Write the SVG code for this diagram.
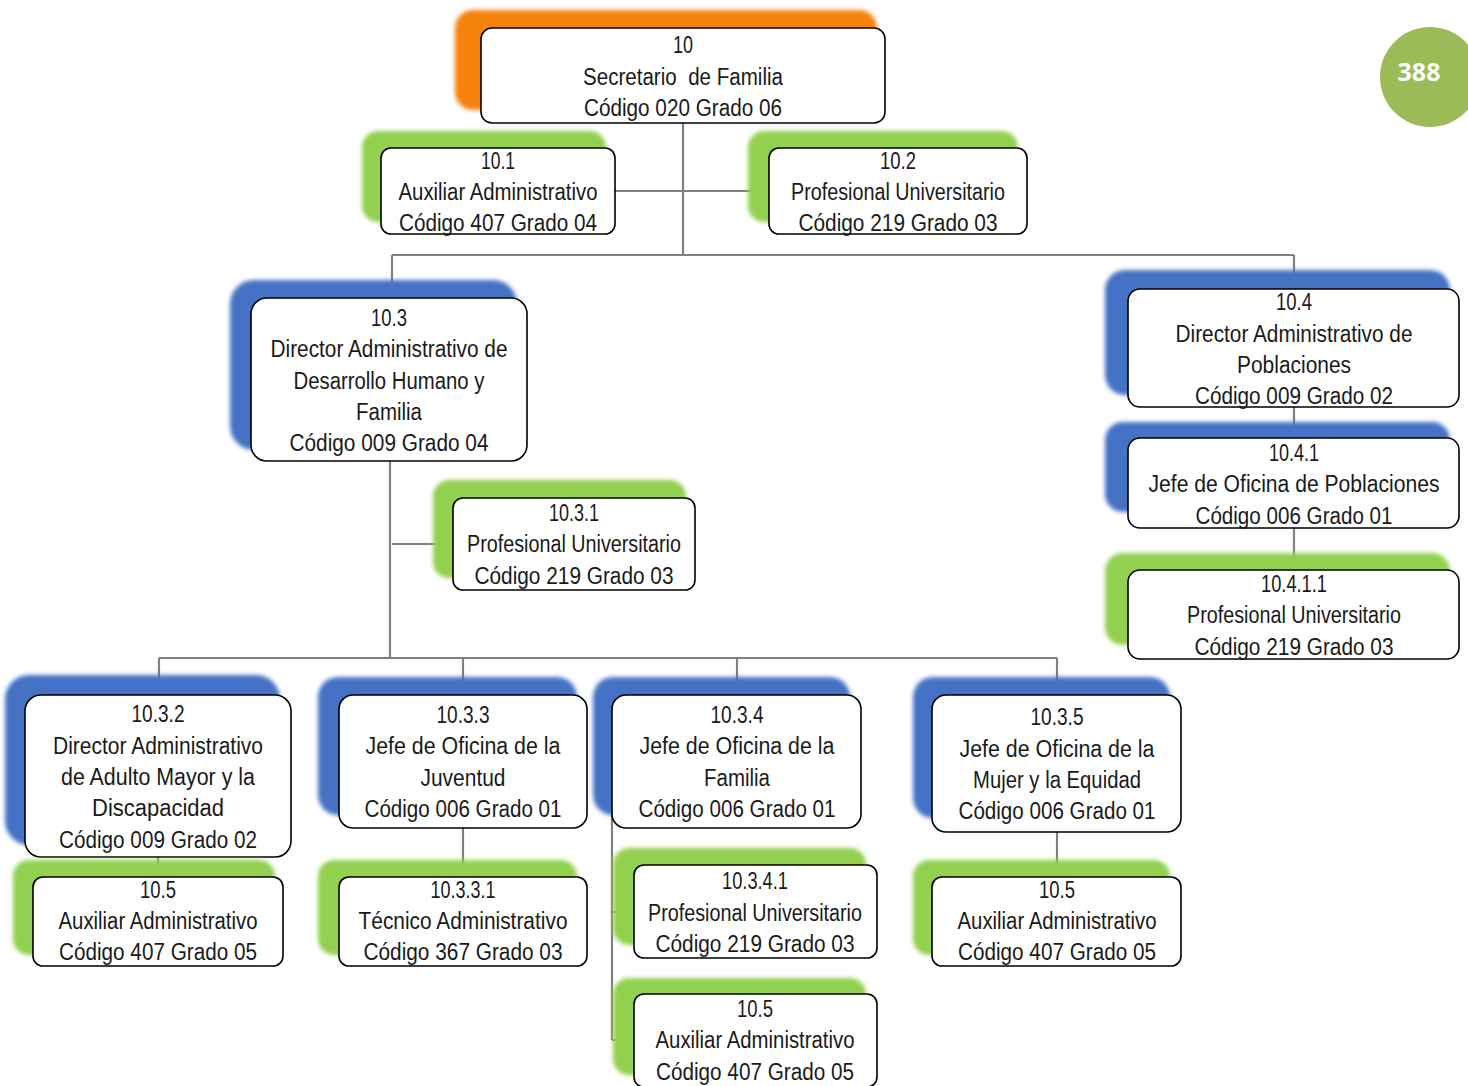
<svg xmlns="http://www.w3.org/2000/svg" width="1468" height="1086" viewBox="0 0 1468 1086">
<defs>
<filter id="soft" x="-10%" y="-10%" width="120%" height="120%"><feGaussianBlur stdDeviation="2"/></filter>
<style>
.sh{filter:url(#soft)}
.or{fill:#F5820F}
.bl{fill:#4472C4}
.gr{fill:#92D050}
.box{fill:#fff;stroke:#000;stroke-width:1.6}
.t{font-family:"Liberation Sans",Arial,sans-serif;font-size:23px;fill:#1a1a1a;text-anchor:middle;white-space:pre}
.c{fill:none;stroke:#808080;stroke-width:2.2}
</style>
</defs>
<rect width="1468" height="1086" fill="#fff"/>

<g id="connectors">
<path class="c" d="M683 123V255M615 191H769M392 255H1294M392 255V298M1294 255V290"/>
<path class="c" d="M390 461V658M392 544H453"/>
<path class="c" d="M1294 407V438M1294 528V570"/>
<path class="c" d="M159 658H1057M159 658V695M463 658V695M737 658V695M1057 658V695"/>
<path class="c" d="M158 857V877M463 828V877M1057 832V877"/>
<path class="c" d="M612 812V1040M612 912H634M612 1040H634"/>
</g>

<g id="n10">
<rect class="sh or" x="455" y="10" width="422" height="100" rx="18"/>
<rect class="box" x="481" y="28" width="404" height="95" rx="11"/>
<text class="t" x="683" y="53" textLength="20" lengthAdjust="spacingAndGlyphs">10</text>
<text class="t" x="683" y="85" textLength="200" lengthAdjust="spacingAndGlyphs">Secretario  de Familia</text>
<text class="t" x="683" y="116" textLength="198" lengthAdjust="spacingAndGlyphs">Código 020 Grado 06</text>
</g>

<g id="n10-1">
<rect class="sh gr" x="362" y="131" width="244" height="91" rx="16"/>
<rect class="box" x="381" y="148" width="234" height="86" rx="10"/>
<text class="t" x="498" y="169" textLength="34" lengthAdjust="spacingAndGlyphs">10.1</text>
<text class="t" x="498" y="200" textLength="199" lengthAdjust="spacingAndGlyphs">Auxiliar Administrativo</text>
<text class="t" x="498" y="231" textLength="198" lengthAdjust="spacingAndGlyphs">Código 407 Grado 04</text>
</g>

<g id="n10-2">
<rect class="sh gr" x="748" y="131" width="270" height="91" rx="16"/>
<rect class="box" x="769" y="148" width="258" height="86" rx="10"/>
<text class="t" x="898" y="169" textLength="36" lengthAdjust="spacingAndGlyphs">10.2</text>
<text class="t" x="898" y="200" textLength="214" lengthAdjust="spacingAndGlyphs">Profesional Universitario</text>
<text class="t" x="898" y="231" textLength="199" lengthAdjust="spacingAndGlyphs">Código 219 Grado 03</text>
</g>

<g id="n10-3">
<rect class="sh bl" x="230" y="280" width="287" height="170" rx="24"/>
<rect class="box" x="251" y="298" width="276" height="163" rx="16"/>
<text class="t" x="389" y="326" textLength="36" lengthAdjust="spacingAndGlyphs">10.3</text>
<text class="t" x="389" y="357" textLength="237" lengthAdjust="spacingAndGlyphs">Director Administrativo de</text>
<text class="t" x="389" y="389" textLength="191" lengthAdjust="spacingAndGlyphs">Desarrollo Humano y</text>
<text class="t" x="389" y="420" textLength="66" lengthAdjust="spacingAndGlyphs">Familia</text>
<text class="t" x="389" y="451" textLength="199" lengthAdjust="spacingAndGlyphs">Código 009 Grado 04</text>
</g>

<g id="n10-3-1">
<rect class="sh gr" x="433" y="480" width="253" height="98" rx="16"/>
<rect class="box" x="453" y="498" width="242" height="92" rx="10"/>
<text class="t" x="574" y="521" textLength="50" lengthAdjust="spacingAndGlyphs">10.3.1</text>
<text class="t" x="574" y="552" textLength="214" lengthAdjust="spacingAndGlyphs">Profesional Universitario</text>
<text class="t" x="574" y="584" textLength="199" lengthAdjust="spacingAndGlyphs">Código 219 Grado 03</text>
</g>

<g id="n10-4">
<rect class="sh bl" x="1105" y="270" width="345" height="125" rx="20"/>
<rect class="box" x="1128" y="289" width="331" height="118" rx="12"/>
<text class="t" x="1294" y="310" textLength="36" lengthAdjust="spacingAndGlyphs">10.4</text>
<text class="t" x="1294" y="342" textLength="237" lengthAdjust="spacingAndGlyphs">Director Administrativo de</text>
<text class="t" x="1294" y="373" textLength="114" lengthAdjust="spacingAndGlyphs">Poblaciones</text>
<text class="t" x="1294" y="404" textLength="198" lengthAdjust="spacingAndGlyphs">Código 009 Grado 02</text>
</g>

<g id="n10-4-1">
<rect class="sh bl" x="1105" y="422" width="345" height="90" rx="18"/>
<rect class="box" x="1128" y="438" width="331" height="90" rx="12"/>
<text class="t" x="1294" y="461" textLength="50" lengthAdjust="spacingAndGlyphs">10.4.1</text>
<text class="t" x="1294" y="492" textLength="291" lengthAdjust="spacingAndGlyphs">Jefe de Oficina de Poblaciones</text>
<text class="t" x="1294" y="524" textLength="197" lengthAdjust="spacingAndGlyphs">Código 006 Grado 01</text>
</g>

<g id="n10-4-1-1">
<rect class="sh gr" x="1105" y="553" width="345" height="92" rx="18"/>
<rect class="box" x="1128" y="570" width="331" height="89" rx="12"/>
<text class="t" x="1294" y="592" textLength="66" lengthAdjust="spacingAndGlyphs">10.4.1.1</text>
<text class="t" x="1294" y="623" textLength="214" lengthAdjust="spacingAndGlyphs">Profesional Universitario</text>
<text class="t" x="1294" y="655" textLength="199" lengthAdjust="spacingAndGlyphs">Código 219 Grado 03</text>
</g>

<g id="n10-3-2">
<rect class="sh bl" x="5" y="675" width="275" height="170" rx="24"/>
<rect class="box" x="25" y="695" width="266" height="162" rx="16"/>
<text class="t" x="158" y="722" textLength="53" lengthAdjust="spacingAndGlyphs">10.3.2</text>
<text class="t" x="158" y="754" textLength="210" lengthAdjust="spacingAndGlyphs">Director Administrativo</text>
<text class="t" x="158" y="785" textLength="194" lengthAdjust="spacingAndGlyphs">de Adulto Mayor y la</text>
<text class="t" x="158" y="816" textLength="132" lengthAdjust="spacingAndGlyphs">Discapacidad</text>
<text class="t" x="158" y="848" textLength="198" lengthAdjust="spacingAndGlyphs">Código 009 Grado 02</text>
</g>

<g id="n10-5-a">
<rect class="sh gr" x="13" y="860" width="262" height="95" rx="16"/>
<rect class="box" x="33" y="877" width="250" height="89" rx="10"/>
<text class="t" x="158" y="898" textLength="36" lengthAdjust="spacingAndGlyphs">10.5</text>
<text class="t" x="158" y="929" textLength="199" lengthAdjust="spacingAndGlyphs">Auxiliar Administrativo</text>
<text class="t" x="158" y="960" textLength="198" lengthAdjust="spacingAndGlyphs">Código 407 Grado 05</text>
</g>

<g id="n10-3-3">
<rect class="sh bl" x="318" y="677" width="259" height="138" rx="20"/>
<rect class="box" x="339" y="695" width="248" height="133" rx="14"/>
<text class="t" x="463" y="723" textLength="53" lengthAdjust="spacingAndGlyphs">10.3.3</text>
<text class="t" x="463" y="754" textLength="195" lengthAdjust="spacingAndGlyphs">Jefe de Oficina de la</text>
<text class="t" x="463" y="786" textLength="85" lengthAdjust="spacingAndGlyphs">Juventud</text>
<text class="t" x="463" y="817" textLength="197" lengthAdjust="spacingAndGlyphs">Código 006 Grado 01</text>
</g>

<g id="n10-3-3-1">
<rect class="sh gr" x="318" y="860" width="259" height="95" rx="16"/>
<rect class="box" x="339" y="877" width="248" height="89" rx="10"/>
<text class="t" x="463" y="898" textLength="65" lengthAdjust="spacingAndGlyphs">10.3.3.1</text>
<text class="t" x="463" y="929" textLength="209" lengthAdjust="spacingAndGlyphs">Técnico Administrativo</text>
<text class="t" x="463" y="960" textLength="199" lengthAdjust="spacingAndGlyphs">Código 367 Grado 03</text>
</g>

<g id="n10-3-4">
<rect class="sh bl" x="593" y="677" width="257" height="138" rx="20"/>
<rect class="box" x="612" y="695" width="249" height="133" rx="14"/>
<text class="t" x="737" y="723" textLength="53" lengthAdjust="spacingAndGlyphs">10.3.4</text>
<text class="t" x="737" y="754" textLength="195" lengthAdjust="spacingAndGlyphs">Jefe de Oficina de la</text>
<text class="t" x="737" y="786" textLength="66" lengthAdjust="spacingAndGlyphs">Familia</text>
<text class="t" x="737" y="817" textLength="197" lengthAdjust="spacingAndGlyphs">Código 006 Grado 01</text>
</g>

<g id="n10-3-4-1">
<rect class="sh gr" x="613" y="848" width="253" height="97" rx="16"/>
<rect class="box" x="634" y="865" width="243" height="93" rx="10"/>
<text class="t" x="755" y="889" textLength="66" lengthAdjust="spacingAndGlyphs">10.3.4.1</text>
<text class="t" x="755" y="921" textLength="214" lengthAdjust="spacingAndGlyphs">Profesional Universitario</text>
<text class="t" x="755" y="952" textLength="199" lengthAdjust="spacingAndGlyphs">Código 219 Grado 03</text>
</g>

<g id="n10-5-b">
<rect class="sh gr" x="613" y="978" width="253" height="97" rx="16"/>
<rect class="box" x="634" y="994" width="243" height="93" rx="10"/>
<text class="t" x="755" y="1017" textLength="36" lengthAdjust="spacingAndGlyphs">10.5</text>
<text class="t" x="755" y="1048" textLength="199" lengthAdjust="spacingAndGlyphs">Auxiliar Administrativo</text>
<text class="t" x="755" y="1080" textLength="198" lengthAdjust="spacingAndGlyphs">Código 407 Grado 05</text>
</g>

<g id="n10-3-5">
<rect class="sh bl" x="913" y="677" width="257" height="141" rx="20"/>
<rect class="box" x="932" y="695" width="249" height="137" rx="14"/>
<text class="t" x="1057" y="725" textLength="53" lengthAdjust="spacingAndGlyphs">10.3.5</text>
<text class="t" x="1057" y="757" textLength="195" lengthAdjust="spacingAndGlyphs">Jefe de Oficina de la</text>
<text class="t" x="1057" y="788" textLength="168" lengthAdjust="spacingAndGlyphs">Mujer y la Equidad</text>
<text class="t" x="1057" y="819" textLength="197" lengthAdjust="spacingAndGlyphs">Código 006 Grado 01</text>
</g>

<g id="n10-5-c">
<rect class="sh gr" x="913" y="860" width="257" height="95" rx="16"/>
<rect class="box" x="932" y="877" width="249" height="89" rx="10"/>
<text class="t" x="1057" y="898" textLength="36" lengthAdjust="spacingAndGlyphs">10.5</text>
<text class="t" x="1057" y="929" textLength="199" lengthAdjust="spacingAndGlyphs">Auxiliar Administrativo</text>
<text class="t" x="1057" y="960" textLength="198" lengthAdjust="spacingAndGlyphs">Código 407 Grado 05</text>
</g>

<g id="page-number">
<circle cx="1430" cy="77" r="50" fill="#9BBB59"/>
<text x="1419" y="81" font-family="'Open Sans','Liberation Sans',sans-serif" font-size="25" font-weight="bold" fill="#fff" text-anchor="middle">388</text>
</g>
</svg>
